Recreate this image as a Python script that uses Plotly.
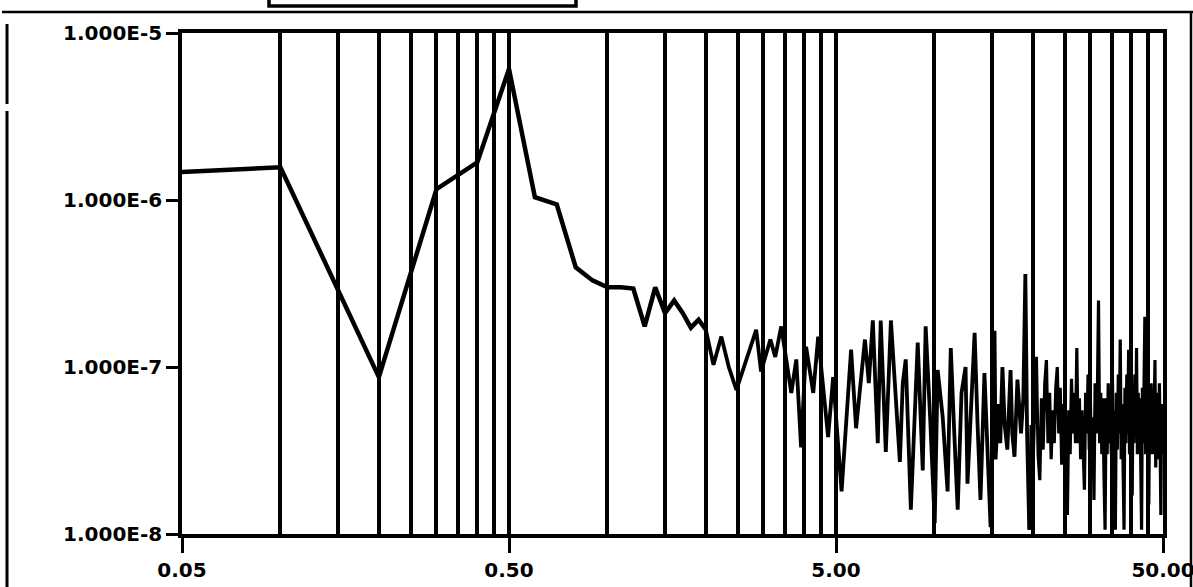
import plotly.graph_objects as go

# ---------------- data ----------------
freq_low = [0.05, 0.1, 0.2, 0.3, 0.4, 0.5, 0.6, 0.7, 0.8, 0.9, 1.0, 1.1, 1.2,
            1.3, 1.4, 1.5, 1.6, 1.7, 1.8, 1.9, 2.0]
psd_low = [1.47e-6, 1.57e-6, 8.7e-8, 1.16e-6, 1.68e-6, 6.1e-6, 1.04e-6, 9.4e-7,
           3.95e-7, 3.3e-7, 3.0e-7, 3.0e-7, 2.95e-7, 1.75e-7, 3.0e-7, 2.1e-7,
           2.5e-7, 2.1e-7, 1.72e-7, 1.92e-7, 1.67e-7]

freq_mid = [2.0, 2.11, 2.23, 2.35, 2.48, 2.66, 2.85, 2.95, 3.15, 3.26,
            3.40, 3.65, 3.78, 3.91, 4.05, 4.26, 4.41, 4.73, 4.90, 5.2,
            5.56, 5.76, 6.13, 6.3, 6.48, 6.71, 6.85, 7.10, 7.36, 7.6,
            7.84, 8.0, 8.17, 8.47, 8.7, 8.89, 9.21, 9.40, 9.7, 10.02,
            10.23, 10.6, 10.97, 11.22, 11.5, 11.78, 12.1, 12.45, 12.62, 13.0,
            13.27, 13.55, 13.83, 14.22, 14.5, 14.85, 15.27, 15.38, 15.7, 15.9,
            16.14, 16.4, 16.71, 16.9, 17.09, 17.3, 17.57, 17.94, 18.2, 18.4,
            18.7, 18.97, 19.2, 19.5]
psd_mid = [1.67e-7, 1.03e-7, 1.52e-7, 1.0e-7, 7.3e-8, 1.11e-7, 1.67e-7, 9.4e-8, 1.46e-7, 1.15e-7,
           1.75e-7, 7.0e-8, 1.11e-7, 3.3e-8, 1.32e-7, 7.0e-8, 1.52e-7, 3.8e-8, 8.7e-8, 1.8e-8,
           1.27e-7, 4.3e-8, 1.46e-7, 8.0e-8, 1.9e-7, 3.5e-8, 1.9e-7, 3.1e-8, 1.9e-7, 7.0e-8,
           2.7e-8, 8.0e-8, 1.11e-7, 1.4e-8, 6.0e-8, 1.4e-7, 2.4e-8, 1.75e-7, 5.0e-8, 1.16e-8,
           9.6e-8, 5.0e-8, 1.8e-8, 1.3e-7, 4.0e-8, 1.4e-8, 7.0e-8, 1.0e-7, 2.0e-8, 6.5e-8,
           1.6e-7, 4.5e-8, 1.6e-8, 9.2e-8, 4.0e-8, 1.1e-8, 1.65e-7, 2.8e-8, 6.0e-8, 3.5e-8,
           1.0e-7, 4.5e-8, 3.2e-8, 7.0e-8, 9.6e-8, 4.0e-8, 2.9e-8, 8.4e-8, 5.0e-8, 4.0e-8,
           6.5e-8, 3.6e-7, 4.0e-8, 1.06e-8]

freq_high = [19.5, 19.75, 20.0, 20.25, 20.5, 20.75, 21.0, 21.25, 21.5, 21.75,
             22.0, 22.25, 22.5, 22.75, 23.0, 23.25, 23.5, 23.75, 24.0, 24.25,
             24.5, 24.75, 25.0, 25.25, 25.5, 25.75, 26.0, 26.25, 26.5, 26.75,
             27.0, 27.25, 27.5, 27.75, 28.0, 28.25, 28.5, 28.75, 29.0, 29.25,
             29.5, 29.75, 30.0, 30.25, 30.5, 30.75, 31.0, 31.25, 31.5, 31.75,
             32.0, 32.25, 32.5, 32.75, 33.0, 33.25, 33.5, 33.75, 34.0, 34.25,
             34.5, 34.75, 35.0, 35.25, 35.5, 35.75, 36.0, 36.25, 36.5, 36.75,
             37.0, 37.25, 37.5, 37.75, 38.0, 38.25, 38.5, 38.75, 39.0, 39.25,
             39.5, 39.75, 40.0, 40.25, 40.5, 40.75, 41.0, 41.25, 41.5, 41.75,
             42.0, 42.25, 42.5, 42.75, 43.0, 43.25, 43.5, 43.75, 44.0, 44.25,
             44.5, 44.75, 45.0, 45.25, 45.5, 45.75, 46.0, 46.25, 46.5, 46.75,
             47.0, 47.25, 47.5, 47.75, 48.0, 48.25, 48.5, 48.75, 49.0, 49.25,
             49.5, 49.75, 50.0]
psd_high = [1.06e-8, 4.5e-8, 2.5e-8, 6.0e-8, 1.15e-7, 3.0e-8, 2.1e-8, 6.5e-8, 3.2e-8, 8.0e-8,
            1.1e-7, 3.5e-8, 7.0e-8, 2.8e-8, 5.5e-8, 3.5e-8, 7.5e-8, 1.0e-7, 4.0e-8, 7.5e-8,
            2.6e-8, 6.0e-8, 3.0e-8, 5.0e-8, 1.3e-8, 5.5e-8, 3.0e-8, 8.5e-8, 4.0e-8, 7.0e-8,
            3.5e-8, 1.3e-7, 3.5e-8, 6.5e-8, 2.8e-8, 5.5e-8, 3.0e-8, 1.84e-8, 7.0e-8, 4.0e-8,
            9.0e-8, 3.2e-8, 6.0e-8, 2.5e-8, 5.0e-8, 1.6e-8, 8.0e-8, 4.0e-8, 7.0e-8, 2.5e-7,
            3.5e-8, 7.0e-8, 3.0e-8, 6.5e-8, 2.2e-8, 1.06e-8, 6.5e-8, 3.0e-8, 8.0e-8, 3.5e-8,
            6.0e-8, 3.0e-8, 1.0e-7, 2.5e-8, 5.5e-8, 1.06e-8, 7.0e-8, 3.2e-8, 9.0e-8, 4.0e-8,
            1.46e-7, 2.8e-8, 6.0e-8, 3.0e-8, 1.06e-8, 7.5e-8, 3.5e-8, 9.0e-8, 4.0e-8, 1.27e-7,
            3.0e-8, 6.5e-8, 2.5e-8, 1.7e-8, 8.0e-8, 3.5e-8, 9.0e-8, 4.0e-8, 1.3e-7, 3.0e-8,
            7.0e-8, 3.5e-8, 6.5e-8, 2.5e-8, 1.06e-8, 7.5e-8, 3.5e-8, 8.0e-8, 2.0e-7, 3.0e-8,
            7.0e-8, 3.5e-8, 6.0e-8, 1.5e-8, 6.5e-8, 3.0e-8, 8.0e-8, 3.5e-8, 7.0e-8, 3.0e-8,
            6.0e-8, 1.1e-7, 2.5e-8, 6.5e-8, 3.5e-8, 7.0e-8, 2.8e-8, 8.0e-8, 3.5e-8, 1.3e-8,
            6.0e-8, 3.0e-8, 5.0e-8]

x_tick_vals = [0.05, 0.5, 5, 50]
x_tick_text = ["0.05", "0.50", "5.00", "50.00"]
y_tick_vals = [1e-5, 1e-6, 1e-7, 1e-8]
y_tick_text = ["1.000E-5", "1.000E-6", "1.000E-7", "1.000E-8"]

# grid lines at every multiple of the decade start (0.05, 0.5, 5)
grid_vals = [m * base for base in (0.05, 0.5, 5.0) for m in range(2, 10)]

# ---------------- layout geometry (pixels) ----------------
W_FIG, H_FIG = 1193, 587
L, R, T, B = 182, 1163, 33, 534
PW, PH = R - L, B - T


def px(x):
    return (x - L) / PW


def py(y):
    return (B - y) / PH


fig = go.Figure()
fig.add_trace(go.Scatter(x=freq_low, y=psd_low, mode="lines",
                         line=dict(color="black", width=4.5), showlegend=False))
fig.add_trace(go.Scatter(x=freq_mid, y=psd_mid, mode="lines",
                         line=dict(color="black", width=3.8), showlegend=False))
fig.add_trace(go.Scatter(x=freq_high, y=psd_high, mode="lines",
                         line=dict(color="black", width=3.2), showlegend=False))

font = dict(family="DejaVu Sans", size=20, color="black", weight="bold")

fig.update_xaxes(type="log", range=[-1.30103, 1.69897],
                 tickmode="array", tickvals=x_tick_vals, ticktext=x_tick_text,
                 ticks="outside", ticklen=15, tickwidth=3, tickcolor="black",
                 showgrid=True, gridcolor="black", gridwidth=3.5,
                 minor=dict(tickmode="array", tickvals=grid_vals, showgrid=True,
                            gridcolor="black", gridwidth=3.5, ticks=""),
                 showline=True, linecolor="black", linewidth=3.5, mirror=True,
                 tickfont=font, zeroline=False, ticklabeloverflow="allow")
fig.update_yaxes(type="log", range=[-8, -5],
                 tickmode="array", tickvals=y_tick_vals, ticktext=y_tick_text,
                 ticks="outside", ticklen=12, tickwidth=3, tickcolor="black",
                 showgrid=False, showline=True, linecolor="black", linewidth=3.5,
                 mirror=True, tickfont=font, zeroline=False)

# scanned page frame decorations
shapes = [
    # header box at the top edge
    dict(type="rect", xref="paper", yref="paper", x0=px(269), x1=px(576),
         y0=py(6), y1=py(-4), line=dict(color="black", width=3.5)),
    # page rule across the top
    dict(type="line", xref="paper", yref="paper", x0=px(2), x1=px(1193),
         y0=py(12), y1=py(12), line=dict(color="black", width=2.5)),
    # left page rule (with a small gap)
    dict(type="line", xref="paper", yref="paper", x0=px(7), x1=px(7),
         y0=py(24), y1=py(104), line=dict(color="black", width=3)),
    dict(type="line", xref="paper", yref="paper", x0=px(7), x1=px(7),
         y0=py(111), y1=py(590), line=dict(color="black", width=3)),
    # right page rule
    dict(type="line", xref="paper", yref="paper", x0=px(1191), x1=px(1191),
         y0=py(12), y1=py(590), line=dict(color="black", width=2.5)),
]
fig.update_layout(width=W_FIG, height=H_FIG, shapes=shapes,
                  margin=dict(l=L, r=W_FIG - R, t=T, b=H_FIG - B, autoexpand=False),
                  paper_bgcolor="white", plot_bgcolor="white")

fig.write_html("out.html", config={"displayModeBar": False},
               post_script="document.body.style.margin='0px';document.body.style.overflow='hidden';")
